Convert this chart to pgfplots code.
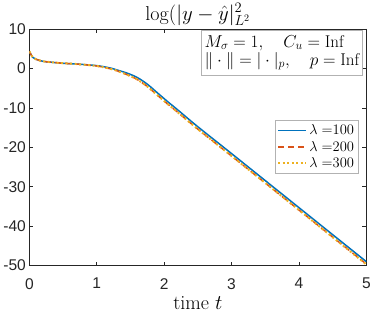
\documentclass[border=0pt]{standalone}
\usepackage{pgfplots}
\pgfplotsset{compat=1.18}
\usepackage{fontspec}
\newfontfamily\tickfont{Liberation Sans}
\definecolor{mblue}{rgb}{0,0.447,0.741}
\definecolor{morange}{rgb}{0.85,0.325,0.098}
\definecolor{myellow}{rgb}{0.929,0.694,0.125}
\definecolor{axgray}{rgb}{0.15,0.15,0.15}
\begin{document}
\begin{tikzpicture}
\begin{axis}[
  scale only axis,
  width=336pt, height=236pt,
  xmin=0, xmax=5, ymin=-50, ymax=10,
  xtick={0,1,2,3,4,5}, ytick={-50,-40,-30,-20,-10,0,10},
  tick align=inside, major tick length=4pt,
  axis line style={axgray, line width=0.5pt},
  tick style={axgray, line width=0.5pt},
  ticklabel style={font=\fontsize{15.5}{17}\selectfont\tickfont, text=axgray},
  xticklabel style={yshift=-9pt},
  /pgf/number format/assume math mode=true,
  title={$\log(|y-\hat{y}|^2_{L^2}$},
  title style={font=\fontsize{20}{22}\selectfont, yshift=-6pt},
  xlabel={time $t$},
  xlabel style={font=\fontsize{20}{22}\selectfont, yshift=0pt},
  legend style={at={(0.976,0.614)}, anchor=north east, draw=gray!60, font=\fontsize{14.5}{16}\selectfont, row sep=1pt, inner sep=2pt},
  legend cell align=left,
  legend image code/.code={\draw[#1] (0pt,0pt) -- (28pt,0pt);},
  clip=true,
]
\addplot[color=mblue, line width=1.5pt, smooth] coordinates {
(0,4.3) (0.05,2.8) (0.1,2.3) (0.2,1.8) (0.3,1.6) (0.5,1.3) (0.7,1.1) (1.0,0.7) (1.2,0.1) (1.3,-0.4) (1.45,-1.2) (1.6,-2.3) (1.75,-4.0) (1.9,-6.2) (2.05,-8.4) (2.2,-10.5) (2.5,-14.8) (3,-21.6) (4,-35.3) (5,-49.0)};
\addlegendentry{$\lambda=$100}
\addplot[color={rgb,1:red,0.85;green,0.325;blue,0.098}, line width=1.5pt, dash pattern=on 6pt off 4pt, smooth] coordinates {
(0,4.3) (0.05,2.8) (0.1,2.3) (0.2,1.8) (0.3,1.6) (0.5,1.3) (0.7,1.1) (1.0,0.6) (1.2,-0.1) (1.3,-0.6) (1.45,-1.6) (1.6,-2.8) (1.75,-4.6) (1.9,-6.8) (2.05,-9.0) (2.2,-11.1) (2.5,-15.4) (3,-22.2) (4,-35.9) (5,-49.6)};
\addlegendentry{$\lambda=$200}
\addplot[color=myellow, line width=2pt, dash pattern=on 2pt off 2.5pt, smooth] coordinates {
(0,4.3) (0.05,2.8) (0.1,2.3) (0.2,1.8) (0.3,1.6) (0.5,1.3) (0.7,1.1) (1.0,0.6) (1.2,-0.1) (1.3,-0.6) (1.45,-1.6) (1.6,-2.8) (1.75,-4.6) (1.9,-6.8) (2.05,-9.0) (2.2,-11.1) (2.5,-15.4) (3,-22.2) (4,-35.9) (5,-49.7)};
\addlegendentry{$\lambda=$300}
\node[anchor=north east, draw=gray!60, fill=white, align=left, inner xsep=3pt, inner ysep=5pt, font=\fontsize{17}{19}\selectfont] at (rel axis cs:0.989,0.996)
{$M_\sigma=1,\quad C_u=\mathrm{Inf}$\\[-1pt] $\|\cdot\|=|\cdot|_p,\quad p=\mathrm{Inf}$};
\end{axis}
\end{tikzpicture}
\end{document}
